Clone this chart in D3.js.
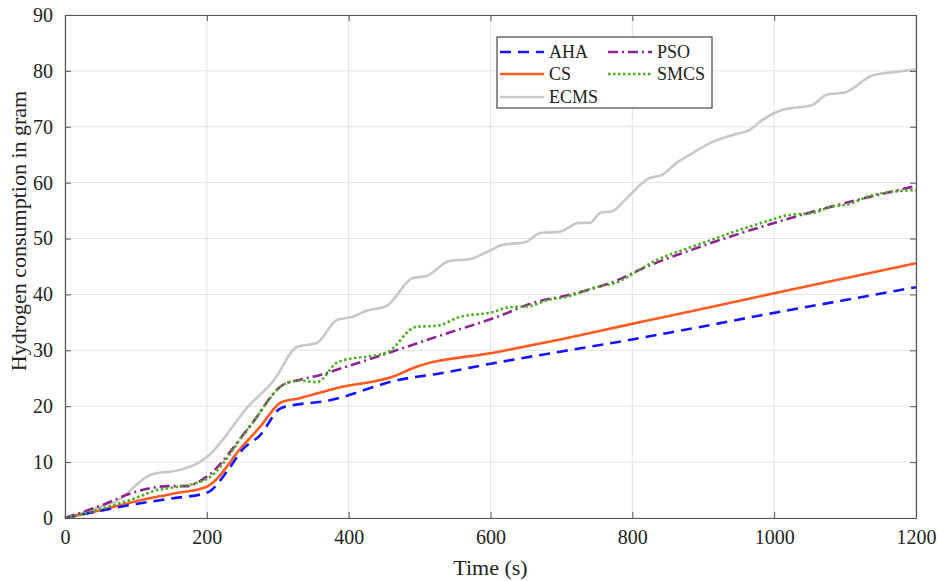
<!DOCTYPE html>
<html>
<head>
<meta charset="utf-8">
<script src="https://cdn.jsdelivr.net/npm/d3@7"></script>
<style>
  body { margin: 0; background: #fff; }
  text { font-family: "Liberation Serif", "Times New Roman", serif; fill: #222; }
</style>
</head>
<body>
<svg width="938" height="581"></svg>
<script>
// values
var ahaT = [0, 50, 100, 150, 200, 230, 250, 275, 305, 375, 470, 530, 600, 700, 780, 850, 1000, 1100, 1200];
var ahaV = [0, 1.3, 2.5, 3.5, 4.5, 8.6, 12.2, 14.8, 19.7, 21.1, 24.7, 25.9, 27.6, 29.8, 31.5, 33.1, 36.7, 39, 41.3];

var csT = [0, 50, 100, 150, 200, 250, 275, 305, 330, 385, 465, 490, 610, 700, 780, 850, 1000, 1100, 1200];
var csV = [0, 1.4, 3, 4.3, 5.6, 12.8, 16.3, 20.7, 21.4, 23.3, 25.4, 26.8, 29.7, 32, 34.2, 36.1, 40.2, 42.9, 45.6];

var psoT = [0, 50, 100, 145, 170, 200, 260, 307, 330, 360, 390, 460, 540, 610, 660, 710, 780, 810, 895, 1000, 1080, 1200];
var psoV = [0, 2.2, 4.7, 5.7, 5.7, 7.4, 16.3, 23.8, 24.7, 25.6, 26.8, 29.7, 33.1, 36, 38.5, 39.9, 42.6, 44.4, 48.5, 52.8, 55.7, 59.4];

var smcsT = [0, 50, 100, 130, 150, 200, 260, 310, 330, 355, 385, 455, 495, 525, 555, 605, 625, 655, 680, 705, 755, 775, 810, 835, 870, 910, 950, 990, 1020, 1055, 1080, 1100, 1140, 1200];
var smcsV = [0, 1.6, 3.6, 5.0, 5.4, 7.0, 16.3, 24.0, 24.6, 24.3, 27.9, 29.7, 34.2, 34.4, 35.9, 36.9, 37.7, 37.9, 39.0, 39.5, 41.5, 42.0, 44.4, 46.2, 47.9, 49.7, 51.5, 53.1, 54.2, 54.6, 55.7, 56.0, 57.8, 58.7];

var ecmsT = [0, 50, 75, 120, 165, 190, 200, 260, 295, 327, 355, 383, 406, 423, 453, 490, 510, 542, 570, 600, 615, 650, 670, 697, 725, 740, 755, 772, 791, 824, 842, 862, 885, 913, 946, 965, 983, 1011, 1054, 1073, 1101, 1139, 1171, 1200];
var ecmsV = [0, 2.0, 3.2, 7.7, 8.7, 10, 10.9, 20.2, 24.7, 30.6, 31.3, 35.4, 36.0, 37.0, 37.9, 42.9, 43.3, 46.0, 46.3, 47.9, 48.8, 49.4, 51.0, 51.2, 52.8, 52.8, 54.6, 54.9, 57.1, 60.8, 61.4, 63.5, 65.3, 67.3, 68.7, 69.4, 71.2, 73.0, 73.9, 75.7, 76.2, 79.2, 79.8, 80.3];

var xTicks = [0, 200, 400, 600, 800, 1000, 1200];
var yTicks = [0, 10, 20, 30, 40, 50, 60, 70, 80, 90];

var series = [
  {name: "ECMS", t: ecmsT, v: ecmsV, color: "#c8c8c8", dash: null},
  {name: "CS", t: csT, v: csV, color: "#ff5a1f", dash: null},
  {name: "AHA", t: ahaT, v: ahaV, color: "#1414ff", dash: "11,7"},
  {name: "PSO", t: psoT, v: psoV, color: "#8e2590", dash: "10,4,2,4"},
  {name: "SMCS", t: smcsT, v: smcsV, color: "#48b01c", dash: "2.5,2.5"}
];

var svg = d3.select("svg");
var margins = {left: 65, right: 22, top: 15, bottom: 63};
var width = 938 - margins.left - margins.right;
var height = 581 - margins.top - margins.bottom;

var xScale = d3.scaleLinear().domain([0, 1200]).range([0, width]);
var yScale = d3.scaleLinear().domain([0, 90]).range([height, 0]);

var g = svg.append("g")
           .attr("transform", "translate(" + margins.left + "," + margins.top + ")");

// grid
g.selectAll(".gx").data(xTicks).enter().append("line")
 .attr("x1", function(d) { return xScale(d); })
 .attr("x2", function(d) { return xScale(d); })
 .attr("y1", 0).attr("y2", height)
 .attr("stroke", "#e2e2e2").attr("stroke-width", 1);
g.selectAll(".gy").data(yTicks).enter().append("line")
 .attr("x1", 0).attr("x2", width)
 .attr("y1", function(d) { return yScale(d); })
 .attr("y2", function(d) { return yScale(d); })
 .attr("stroke", "#e2e2e2").attr("stroke-width", 1);

// lines
var line = d3.line()
             .curve(d3.curveMonotoneX)
             .x(function(d) { return xScale(d[0]); })
             .y(function(d) { return yScale(d[1]); });

series.forEach(function(s) {
  var pts = s.t.map(function(t, i) { return [t, s.v[i]]; });
  g.append("path")
   .datum(pts)
   .attr("d", line)
   .attr("fill", "none")
   .attr("stroke", s.color)
   .attr("stroke-width", 2.6)
   .attr("stroke-dasharray", s.dash);
});

// axes (box with inward ticks)
var axisColor = "#555";
var fmt = d3.format("d");
var xAxis = d3.axisBottom(xScale).tickValues(xTicks).tickFormat(fmt).tickSizeInner(-6).tickSizeOuter(0).tickPadding(12);
var yAxis = d3.axisLeft(yScale).tickValues(yTicks).tickFormat(fmt).tickSizeInner(-6).tickSizeOuter(0).tickPadding(12);
var xTop = d3.axisTop(xScale).tickValues(xTicks).tickSizeInner(-6).tickSizeOuter(0).tickFormat("");
var yRight = d3.axisRight(yScale).tickValues(yTicks).tickSizeInner(-6).tickSizeOuter(0).tickFormat("");

var axB = g.append("g").attr("transform", "translate(0," + height + ")").call(xAxis);
var axL = g.append("g").call(yAxis);
var axT = g.append("g").call(xTop);
var axR = g.append("g").attr("transform", "translate(" + width + ",0)").call(yRight);

[axB, axL, axT, axR].forEach(function(a) {
  a.attr("font-family", "Liberation Serif").attr("font-size", 20);
  a.selectAll("path").attr("stroke", axisColor).attr("stroke-width", 1.2);
  a.selectAll("line").attr("stroke", axisColor);
  a.selectAll("text").attr("fill", "#222");
});
axB.selectAll("text").attr("dy", "0.71em").attr("y", 12);

// axis titles
svg.append("text")
   .attr("x", margins.left + width / 2)
   .attr("y", 575)
   .attr("text-anchor", "middle")
   .style("font-size", "22px")
   .text("Time (s)");

svg.append("text")
   .attr("transform", "translate(26,231) rotate(-90)")
   .attr("text-anchor", "middle")
   .style("font-size", "22px")
   .text("Hydrogen consumption in gram");

// legend
var legend = [
  {name: "AHA", col: 0, row: 0},
  {name: "PSO", col: 1, row: 0},
  {name: "CS", col: 0, row: 1},
  {name: "SMCS", col: 1, row: 1},
  {name: "ECMS", col: 0, row: 2}
];
var lg = svg.append("g").attr("transform", "translate(497,37)");
lg.append("rect")
  .attr("width", 215).attr("height", 71)
  .attr("fill", "#fff").attr("stroke", "#444").attr("stroke-width", 1.2);

var rowY = [15, 37, 60];
var colX = [3, 111];
legend.forEach(function(l) {
  var s = series.filter(function(d) { return d.name === l.name; })[0];
  var y = rowY[l.row];
  lg.append("line")
    .attr("x1", colX[l.col]).attr("x2", colX[l.col] + 44)
    .attr("y1", y).attr("y2", y)
    .attr("stroke", s.color).attr("stroke-width", 2.6)
    .attr("stroke-dasharray", s.dash);
  lg.append("text")
    .attr("x", colX[l.col] + 49).attr("y", y)
    .attr("dy", "0.35em")
    .style("font-size", "18px")
    .text(l.name);
});
</script>
</body>
</html>
